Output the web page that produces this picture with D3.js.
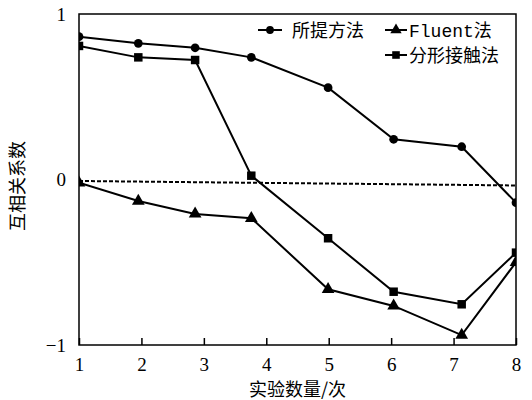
<!DOCTYPE html>
<html>
<head>
<meta charset="utf-8">
<script src="https://cdn.jsdelivr.net/npm/d3@7/dist/d3.min.js"></script>
<style>
  html, body { margin: 0; padding: 0; background: #fff; }
  svg { display: block; }
</style>
</head>
<body>
<script>
// Experiment runs and the plotted horizontal position of each run
const runs = [1, 2, 3, 4, 5, 6, 7, 8];
const runPos = [1, 1.95, 2.86, 3.76, 4.99, 6.04, 7.13, 8];

// Cross-correlation coefficient per method
const proposed = [0.863, 0.823, 0.796, 0.738, 0.555, 0.243, 0.198, -0.140];
const fluent   = [-0.02, -0.13, -0.208, -0.234, -0.663, -0.764, -0.94, -0.50];
const fractal  = [0.807, 0.738, 0.722, 0.023, -0.355, -0.678, -0.754, -0.442];

// Zero reference line (value at left and right ends)
const refLine = [-0.009, -0.036];

const seriesNames = ["所提方法", "Fluent法", "分形接触法"];
const yTicks = [1, 0, -1];
const xTicks = runs;

const W = 532, H = 400;
const margin = { top: 14, right: 16, bottom: 55, left: 79 };
const iw = W - margin.left - margin.right;
const ih = H - margin.top - margin.bottom;

const svg = d3.select("body").append("svg")
  .attr("width", W).attr("height", H);

const x = d3.scaleLinear().domain([1, 8]).range([0, iw]);
const y = d3.scaleLinear().domain([-1, 1]).range([ih, 0]);

const g = svg.append("g").attr("transform", `translate(${margin.left},${margin.top})`);

g.append("clipPath").attr("id", "plotclip")
  .append("rect").attr("x", 0).attr("y", 0).attr("width", iw).attr("height", ih);

const serif = "'Liberation Serif', 'Times New Roman', serif";
const cjk = "'Noto Sans CJK SC', sans-serif";

// bottom axis with inward ticks
const xAxis = g.append("g").attr("transform", `translate(0,${ih})`)
  .call(d3.axisBottom(x).tickValues(xTicks).tickSize(-7).tickPadding(13).tickFormat(d3.format("d")));
xAxis.select(".domain").remove();
xAxis.selectAll("line").attr("stroke", "#000").attr("stroke-width", 1.5);
xAxis.selectAll("text").attr("font-family", serif).attr("font-size", 19).attr("fill", "#000");

// left axis labels only
const yAxis = g.append("g")
  .call(d3.axisLeft(y).tickValues(yTicks).tickSize(0).tickPadding(13)
    .tickFormat(d => d < 0 ? "\u2212" + Math.abs(d) : String(d)));
yAxis.select(".domain").remove();
yAxis.selectAll("text").attr("font-family", serif).attr("font-size", 19).attr("fill", "#000");

// zero reference line
g.append("line")
  .attr("x1", x(1)).attr("x2", x(8))
  .attr("y1", y(refLine[0])).attr("y2", y(refLine[1]))
  .attr("stroke", "#000").attr("stroke-width", 2)
  .attr("stroke-dasharray", "4,2");

const plot = g.append("g").attr("clip-path", "url(#plotclip)");
const line = d3.line().x(d => x(d[0])).y(d => y(d[1]));

const series = [
  { name: seriesNames[0], values: proposed, symbol: d3.symbolCircle, size: 60 },
  { name: seriesNames[1], values: fluent, symbol: d3.symbolTriangle, size: 70 },
  { name: seriesNames[2], values: fractal, symbol: d3.symbolSquare, size: 72 }
];

series.forEach(s => {
  const pts = s.values.map((v, i) => [runPos[i], v]);
  plot.append("path").datum(pts)
    .attr("d", line)
    .attr("fill", "none").attr("stroke", "#000").attr("stroke-width", 2);
  plot.selectAll(null).data(pts).enter().append("path")
    .attr("transform", d => `translate(${x(d[0])},${y(d[1])})`)
    .attr("d", d3.symbol().type(s.symbol).size(s.size))
    .attr("fill", "#000");
});

// frame
g.append("rect").attr("x", 0).attr("y", 0).attr("width", iw).attr("height", ih)
  .attr("fill", "none").attr("stroke", "#000").attr("stroke-width", 1.5);

// legend
const legendItems = [
  { s: series[0], lx: 258, tx: 292, ly: 30 },
  { s: series[1], lx: 385, tx: 409, ly: 30 },
  { s: series[2], lx: 385, tx: 409, ly: 55 }
];
const leg = svg.append("g");
legendItems.forEach(it => {
  const len = it.s === series[0] ? 24 : 22;
  leg.append("line")
    .attr("x1", it.lx).attr("x2", it.lx + len)
    .attr("y1", it.ly).attr("y2", it.ly)
    .attr("stroke", "#000").attr("stroke-width", 2);
  leg.append("path")
    .attr("transform", `translate(${it.lx + len / 2},${it.ly})`)
    .attr("d", d3.symbol().type(it.s.symbol).size(it.s.size * 0.8))
    .attr("fill", "#000");
  const t = leg.append("text")
    .attr("x", it.tx).attr("y", it.ly + 6.5)
    .attr("font-size", 18).attr("fill", "#000");
  if (it.s.name.startsWith("Fluent")) {
    t.append("tspan").attr("font-family", "'Liberation Mono', monospace").text("Fluent");
    t.append("tspan").attr("font-family", cjk).text("法");
  } else {
    t.attr("font-family", cjk).text(it.s.name);
  }
});

// axis titles
svg.append("text")
  .attr("x", margin.left + iw / 2).attr("y", 396)
  .attr("text-anchor", "middle")
  .attr("font-family", cjk).attr("font-size", 18).attr("fill", "#000")
  .text("实验数量/次");

svg.append("text")
  .attr("transform", `translate(24,186) rotate(-90)`)
  .attr("text-anchor", "middle")
  .attr("font-family", cjk).attr("font-size", 18).attr("fill", "#000")
  .text("互相关系数");
</script>
</body>
</html>
